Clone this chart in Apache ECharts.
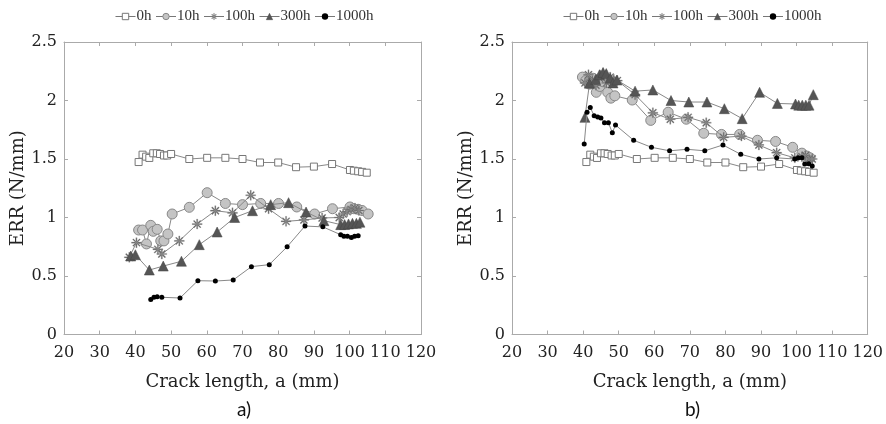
<!DOCTYPE html>
<html><head><meta charset="utf-8">
<script src="https://cdn.jsdelivr.net/npm/echarts@6/dist/echarts.min.js"></script>
<style>html,body{margin:0;padding:0;background:#fff}#c{width:886px;height:424px}</style>
</head><body><div id="c"></div>
<script>
// ---- data ----
const seriesNames = ['0h', '10h', '100h', '300h', '1000h'];
const xTicks = [20, 30, 40, 50, 60, 70, 80, 90, 100, 110, 120];
const yTicks = [0, 0.5, 1, 1.5, 2, 2.5];

// panel a)
const a0hX = [40.9,42.0,43.0,43.9,45.0,46.0,46.9,48.0,48.9,50.0,55.1,60.1,65.2,70.0,74.9,80.0,85.0,90.0,95.1,100.1,101.2,102.4,103.5,104.8];
const a0hY = [1.474,1.537,1.52,1.509,1.549,1.549,1.543,1.53,1.53,1.543,1.50,1.51,1.51,1.50,1.47,1.47,1.43,1.435,1.457,1.406,1.40,1.395,1.39,1.383];
const a10hX = [40.9,42.0,43.1,44.3,45.0,46.1,47.1,48.0,49.1,50.3,55.1,60.1,65.2,70.0,75.1,80.1,85.2,90.2,95.2,100.1,101.2,102.4,103.5,105.2];
const a10hY = [0.893,0.893,0.774,0.933,0.882,0.899,0.80,0.80,0.859,1.03,1.087,1.212,1.12,1.11,1.12,1.12,1.09,1.03,1.075,1.09,1.075,1.07,1.06,1.03];
const a100hX = [38.3,40.3,46.3,47.4,52.3,57.3,62.4,67.2,72.3,77.3,82.2,87.2,92.3,97.1,98.2,99.3,100.4,101.5,102.6];
const a100hY = [0.66,0.785,0.728,0.688,0.80,0.944,1.058,1.04,1.19,1.075,0.967,0.979,0.996,1.0,1.03,1.05,1.07,1.08,1.06];
const a300hX = [38.7,40.0,43.9,47.8,52.9,57.9,62.9,67.8,72.8,77.9,82.9,87.8,92.8,97.5,98.6,99.7,100.8,101.9,102.9];
const a300hY = [0.671,0.682,0.551,0.585,0.626,0.768,0.876,1.0,1.058,1.11,1.127,1.047,0.973,0.939,0.94,0.945,0.95,0.95,0.96];
const a1000hX = [44.3,45.2,46.1,47.4,52.5,57.5,62.4,67.4,72.5,77.5,82.5,87.5,92.5,97.5,98.4,99.4,100.5,101.4,102.4];
const a1000hY = [0.30,0.318,0.323,0.318,0.312,0.46,0.457,0.466,0.58,0.597,0.75,0.927,0.92,0.853,0.84,0.84,0.83,0.84,0.845];

// panel b)
const b0hX = a0hX;
const b0hY = a0hY;
const b10hX = [39.8,40.7,41.8,42.8,43.7,44.7,45.6,46.9,47.8,48.9,53.8,59.0,63.9,69.0,73.9,78.9,84.0,89.0,94.1,98.9,101.5,102.9,103.8];
const b10hY = [2.20,2.17,2.14,2.19,2.07,2.12,2.16,2.07,2.02,2.04,2.004,1.83,1.90,1.84,1.72,1.71,1.71,1.66,1.65,1.60,1.55,1.525,1.51];
const b100hX = [40.5,41.5,42.6,43.6,44.6,45.6,46.6,47.6,48.6,49.6,54.6,59.6,64.5,69.5,74.6,79.5,84.5,89.4,94.4,99.5,101.5,102.5,103.5,104.4];
const b100hY = [2.15,2.22,2.17,2.13,2.19,2.23,2.15,2.20,2.18,2.17,2.05,1.895,1.84,1.856,1.81,1.685,1.696,1.62,1.554,1.51,1.52,1.53,1.50,1.50];
const b300hX = [40.5,41.8,43.5,44.6,45.6,46.5,47.6,48.4,49.5,54.6,59.6,64.7,69.7,74.8,79.7,84.7,89.6,94.6,99.7,100.6,101.6,102.6,103.5,104.7];
const b300hY = [1.856,2.147,2.18,2.22,2.24,2.23,2.19,2.15,2.175,2.08,2.09,2.0,1.987,1.987,1.93,1.845,2.07,1.975,1.97,1.96,1.96,1.96,1.96,2.05];
const b1000hX = [40.3,41.1,42.0,43.1,44.1,45.0,46.0,47.1,48.2,49.1,54.2,59.2,64.3,69.2,74.2,79.3,84.3,89.4,94.4,99.5,100.5,101.5,102.3,103.4,104.4];
const b1000hY = [1.628,1.90,1.94,1.87,1.86,1.85,1.81,1.81,1.725,1.79,1.66,1.60,1.57,1.583,1.57,1.62,1.54,1.50,1.51,1.50,1.51,1.51,1.457,1.46,1.44];

const panelA = [[a0hX,a0hY],[a10hX,a10hY],[a100hX,a100hY],[a300hX,a300hY],[a1000hX,a1000hY]];
const panelB = [[b0hX,b0hY],[b10hX,b10hY],[b100hX,b100hY],[b300hX,b300hY],[b1000hX,b1000hY]];

// ---- styles ----
const SERIF = '"DejaVu Serif", "Liberation Serif", serif';
const AST = 'path://M-0.6,-5L0.6,-5L0.6,5L-0.6,5Z M-5,-0.6L5,-0.6L5,0.6L-5,0.6Z M-3.08,-3.92L3.92,3.08L3.08,3.92L-3.92,-3.08Z M3.08,-3.92L3.92,-3.08L-3.08,3.92L-3.92,3.08Z';
const styles = [
  {symbol:'rect', size:7, fill:'#ffffff', border:'#777777', bw:1},
  {symbol:'circle', size:10, fill:'#c4c4c4', border:'#888888', bw:1},
  {symbol:AST, size:10, fill:'#666666', border:'#999999', bw:0.3},
  {symbol:'triangle', size:10, fill:'#555555', border:'#444444', bw:0.5},
  {symbol:'circle', size:5, fill:'#000000', border:'#000000', bw:0}
];

const grids = [
  {left:64, top:42, width:357, height:292.5},
  {left:512, top:42, width:356, height:292.5}
];

const xAxes = [], yAxes = [];
grids.forEach((g, i) => {
  const common = {
    min: xTicks[0], max: xTicks[xTicks.length-1], interval: 10, gridIndex: i,
    axisLine:{show:true, onZero:false, lineStyle:{color:'#aaa', width:1}},
    axisTick:{show:true, inside:true, length:4, lineStyle:{color:'#aaa'}},
    splitLine:{show:false}
  };
  xAxes.push(Object.assign({}, common, {
    type:'value', position:'bottom',
    axisLabel:{color:'#222', fontFamily:SERIF, fontSize:16, margin:10},
    name:'Crack length, a (mm)', nameLocation:'middle', nameGap:39,
    nameTextStyle:{color:'#222', fontFamily:SERIF, fontSize:18}
  }));
  xAxes.push(Object.assign({}, common, {type:'value', position:'top', axisLabel:{show:false}}));
  const ycommon = {
    type:'value', min:yTicks[0], max:yTicks[yTicks.length-1], interval:0.5, gridIndex:i,
    axisLine:{show:true, onZero:false, lineStyle:{color:'#aaa', width:1}},
    axisTick:{show:true, inside:true, length:4, lineStyle:{color:'#aaa'}},
    splitLine:{show:false}
  };
  yAxes.push(Object.assign({}, ycommon, {
    position:'left',
    axisLabel:{color:'#222', fontFamily:SERIF, fontSize:16, margin:7},
    name:'ERR (N/mm)', nameLocation:'middle', nameGap:33, nameRotate:90,
    nameTextStyle:{color:'#222', fontFamily:SERIF, fontSize:18}
  }));
  yAxes.push(Object.assign({}, ycommon, {position:'right', axisLabel:{show:false}}));
});

const series = [];
[panelA, panelB].forEach((panel, p) => {
  panel.forEach((d, k) => {
    const st = styles[k];
    series.push({
      name: seriesNames[k], type:'line',
      xAxisIndex: p*2, yAxisIndex: p*2,
      data: d[0].map((x, j) => [x, d[1][j]]),
      symbol: st.symbol, symbolSize: st.size, showAllSymbol:true,
      lineStyle:{color:'#888', width:1},
      itemStyle:{color:st.fill, borderColor:st.border, borderWidth:st.bw},
      emphasis:{disabled:true}, animation:false, z: 2+k
    });
  });
});

const legendData = seriesNames.map((n, k) => ({
  name: n,
  itemStyle:{color:styles[k].fill, borderColor:styles[k].border, borderWidth:styles[k].bw},
  lineStyle:{color:'#777', width:1}
}));
const legendBase = {
  data: legendData, top:4, itemWidth:20, itemHeight:8, itemGap:4,
  orient:'horizontal', width:400,
  textStyle:{color:'#333', fontFamily:'"Liberation Serif", serif', fontSize:15, padding:[0,0,0,-4]},
  selectedMode:false
};

const chart = echarts.init(document.getElementById('c'), null, {renderer:'canvas'});
chart.setOption({
  backgroundColor:'#fff',
  animation:false,
  grid: grids,
  xAxis: xAxes,
  yAxis: yAxes,
  legend: [
    Object.assign({}, legendBase, {left: 110}),
    Object.assign({}, legendBase, {left: 558})
  ],
  title: [
    {text:'a)', left:232, top:395, textStyle:{fontFamily:'Lato, "Open Sans", sans-serif', fontSize:19, fontWeight:'normal', color:'#111'}},
    {text:'b)', left:680, top:395, textStyle:{fontFamily:'Lato, "Open Sans", sans-serif', fontSize:19, fontWeight:'normal', color:'#111'}}
  ],
  series: series
});
</script></body></html>
